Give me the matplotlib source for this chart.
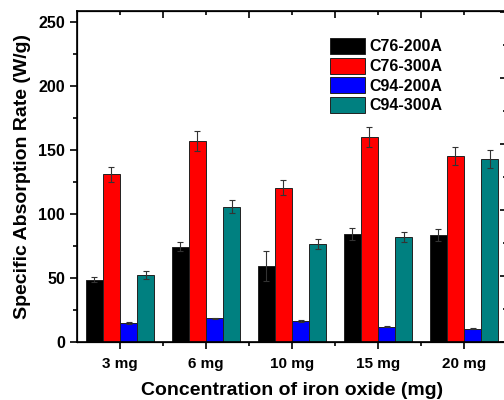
import numpy as np
import matplotlib
matplotlib.use("Agg")
import matplotlib.pyplot as plt
from matplotlib.ticker import MultipleLocator, FixedLocator

plt.rcParams['font.family'] = ['Liberation Sans', 'DejaVu Sans']
plt.rcParams['font.weight'] = 'bold'

# data
categories = ['3 mg', '6 mg', '10 mg', '15 mg', '20 mg']
series = ['C76-200A', 'C76-300A', 'C94-200A', 'C94-300A']
c76_200 = [48.5, 74.5, 59.4, 84.4, 83.6]
c76_200_err = [2, 3.5, 12, 4.4, 4.5]
c76_300 = [131, 157, 120.5, 160, 145]
c76_300_err = [6, 8, 6, 8, 7]
c94_200 = [14.8, 18.5, 16.4, 12, 10.4]
c94_200_err = [0.5, 0.5, 0.5, 0.5, 0.5]
c94_300 = [52.6, 105.7, 76.6, 81.8, 142.7]
c94_300_err = [3, 5, 3.6, 4, 7]
colors = ['#000000', '#ff0000', '#0000ff', '#008080']

values = [c76_200, c76_300, c94_200, c94_300]
errors = [c76_200_err, c76_300_err, c94_200_err, c94_300_err]

fig = plt.figure(figsize=(5.04, 4.0), dpi=100)
ax = fig.add_axes([77 / 504, 58 / 400, 430 / 504, 331 / 400])

x = np.arange(len(categories))
w = 0.2
for i in range(len(series)):
    ax.bar(x + (i - 1.5) * w, values[i], w, yerr=errors[i], color=colors[i],
           edgecolor='#222222', linewidth=0.7, label=series[i],
           error_kw=dict(ecolor='#333333', elinewidth=0.8, capsize=2.5, capthick=0.8))

ax.set_xlim(-0.5, len(categories) - 0.5)
ax.set_ylim(0, 258.6)
ax.set_xticks(x)
ax.set_xticklabels(categories, fontsize=11, fontweight='bold')
ax.xaxis.set_minor_locator(FixedLocator(x[:-1] + 0.5))
ax.yaxis.set_major_locator(MultipleLocator(50))
ax.yaxis.set_minor_locator(MultipleLocator(25))
for lab in ax.get_yticklabels():
    lab.set_fontsize(11.5)
    lab.set_fontweight('bold')

ax.tick_params(axis='both', which='major', direction='out', length=5, width=1.2)
ax.tick_params(axis='both', which='minor', direction='out', length=3, width=1.2)
ax.tick_params(axis='x', which='major', pad=6)
for sp in ax.spines.values():
    sp.set_linewidth(1.2)

ax.set_xlabel('Concentration of iron oxide (mg)', fontsize=14, fontweight='bold', labelpad=8)
ax.set_ylabel('Specific Absorption Rate (W/g)', fontsize=14, fontweight='bold', labelpad=5)

# top axis: inward ticks, long ones between groups
ax3 = ax.twiny()
ax3.set_xlim(ax.get_xlim())
ax3.xaxis.set_major_locator(FixedLocator(x[:-1] + 0.5))
ax3.xaxis.set_minor_locator(FixedLocator(x))
ax3.tick_params(axis='x', which='major', direction='in', length=5, width=1.2, labeltop=False)
ax3.tick_params(axis='x', which='minor', direction='in', length=3, width=1.2)

# right axis (mostly cropped off in the original)
ax2 = ax.twinx()
ax2.set_ylim(0, 331 / 66)
ax2.yaxis.set_major_locator(MultipleLocator(1))
ax2.yaxis.set_minor_locator(MultipleLocator(0.5))
ax2.tick_params(axis='y', which='major', direction='in', length=5, width=1.2, labelright=False)
ax2.tick_params(axis='y', which='minor', direction='in', length=3, width=1.2)

leg = ax.legend(loc='upper left', bbox_to_anchor=(0.588, 0.918), frameon=False,
                prop={'size': 11.5, 'weight': 'bold'}, handlelength=2.2,
                handleheight=1.15, labelspacing=0.2, handletextpad=0.3,
                borderaxespad=0, borderpad=0)

fig.savefig('out.png', dpi=100)
